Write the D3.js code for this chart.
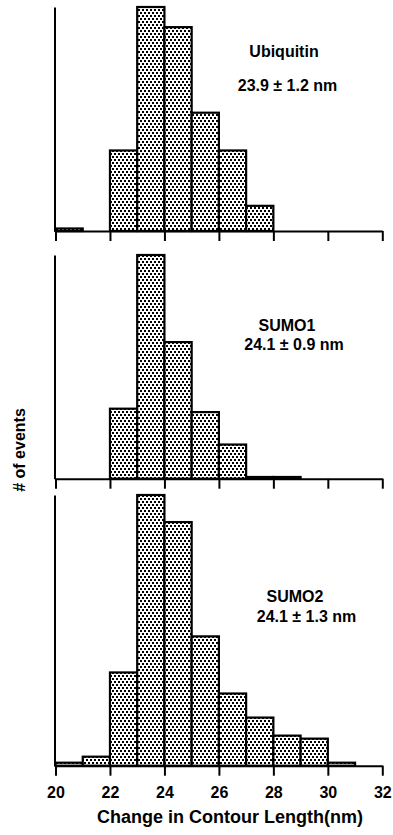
<!DOCTYPE html>
<html>
<head>
<meta charset="utf-8">
<script src="https://cdn.jsdelivr.net/npm/d3@7/dist/d3.min.js"></script>
<style>
  html, body { margin: 0; padding: 0; background: #fff; }
  svg { display: block; }
  text { font-family: "Liberation Sans", Arial, sans-serif; font-weight: bold; fill: #000; }
</style>
</head>
<body>
<svg id="chart" width="393" height="835"></svg>
<script>
// Histogram bins (lower edge, nm); each bin is 1 nm wide
const binStarts = [20, 21, 22, 23, 24, 25, 26, 27, 28, 29, 30, 31];
const binWidth = 1;

// Number of unfolding events per bin
const ubiquitinCounts = [1, 0, 32, 89, 81, 47, 32, 10, 0, 0, 0, 0];
const sumo1Counts     = [0, 0, 41, 131, 80, 39, 20, 1, 1, 0, 0, 0];
const sumo2Counts     = [1, 3, 31, 90, 81, 43, 24, 16, 10, 9, 1, 0];

const proteinNames = ["Ubiquitin", "SUMO1", "SUMO2"];
const contourStats = ["23.9 ± 1.2 nm", "24.1 ± 0.9 nm", "24.1 ± 1.3 nm"];

const xTicks = [20, 22, 24, 26, 28, 30, 32];
const xDomain = [20, 32];
const xTitle = "Change in Contour Length(nm)";
const yTitle = "# of events";

// Panel geometry and label placement
const panels = [
  { counts: ubiquitinCounts, top: 7,   bottom: 231,   nameAt: [284, 57],  statAt: [287.5, 91] },
  { counts: sumo1Counts,     top: 255, bottom: 478.7, nameAt: [287, 330.5], statAt: [294, 350] },
  { counts: sumo2Counts,     top: 495, bottom: 765.7, nameAt: [295, 601.5], statAt: [306.5, 622] }
];

const svg = d3.select("#chart");
svg.append("rect").attr("width", 393).attr("height", 835).attr("fill", "#fff");

// Stippled fill used for the bars
const defs = svg.append("defs");
const pat = defs.append("pattern")
  .attr("id", "stipple")
  .attr("patternUnits", "userSpaceOnUse")
  .attr("width", 4).attr("height", 6);
pat.append("rect").attr("width", 4).attr("height", 6).attr("fill", "#fff");
pat.append("rect").attr("x", 0).attr("y", 0).attr("width", 2).attr("height", 2).attr("fill", "#000");
pat.append("rect").attr("x", 2).attr("y", 3).attr("width", 2).attr("height", 2).attr("fill", "#000");

const x = d3.scaleLinear().domain(xDomain).range([55.5, 382.3]);

panels.forEach((p, i) => {
  const y = d3.scaleLinear()
    .domain([0, d3.max(p.counts)])
    .range([p.bottom, p.top]);

  const g = svg.append("g");

  const bars = binStarts
    .map((b, j) => ({ start: b, count: p.counts[j] }))
    .filter(d => d.count > 0);

  g.selectAll("rect.bar")
    .data(bars)
    .join("rect")
    .attr("class", "bar")
    .attr("x", d => x(d.start))
    .attr("width", d => x(d.start + binWidth) - x(d.start))
    .attr("y", d => y(d.count))
    .attr("height", d => y(0) - y(d.count))
    .attr("fill", "url(#stipple)")
    .attr("stroke", "#000")
    .attr("stroke-width", 2.2);

  // Vertical axis: plain line without ticks
  const yAxis = g.append("g")
    .attr("transform", `translate(${x(xDomain[0]) - 1},0)`)
    .call(d3.axisLeft(y).tickValues([]).tickSizeOuter(0));
  yAxis.select(".domain").attr("stroke-width", 2);

  // Horizontal axis with downward ticks; labels only on the lowest panel
  const last = i === panels.length - 1;
  const xAxis = g.append("g")
    .attr("transform", `translate(0,${p.bottom})`)
    .call(d3.axisBottom(x)
      .tickValues(xTicks)
      .tickSize(10)
      .tickSizeOuter(0)
      .tickPadding(11)
      .tickFormat(last ? d3.format("d") : () => ""));
  xAxis.select(".domain").attr("stroke-width", 2);
  xAxis.selectAll(".tick line").attr("stroke-width", 2);
  xAxis.selectAll(".tick text")
    .style("font-family", "'Liberation Sans', Arial, sans-serif")
    .style("font-weight", "bold")
    .style("font-size", "16px")
    .attr("fill", "#000");

  g.append("text")
    .attr("x", p.nameAt[0]).attr("y", p.nameAt[1])
    .attr("text-anchor", "middle")
    .style("font-size", "16px")
    .text(proteinNames[i]);

  g.append("text")
    .attr("x", p.statAt[0]).attr("y", p.statAt[1])
    .attr("text-anchor", "middle")
    .style("font-size", "16px")
    .text(contourStats[i]);
});

// Axis titles
svg.append("text")
  .attr("x", 230).attr("y", 822.5)
  .attr("text-anchor", "middle")
  .style("font-size", "18px")
  .text(xTitle);

svg.append("text")
  .attr("transform", "translate(24.5,450) rotate(-90)")
  .attr("text-anchor", "middle")
  .style("font-size", "16px")
  .text(yTitle);
</script>
</body>
</html>
